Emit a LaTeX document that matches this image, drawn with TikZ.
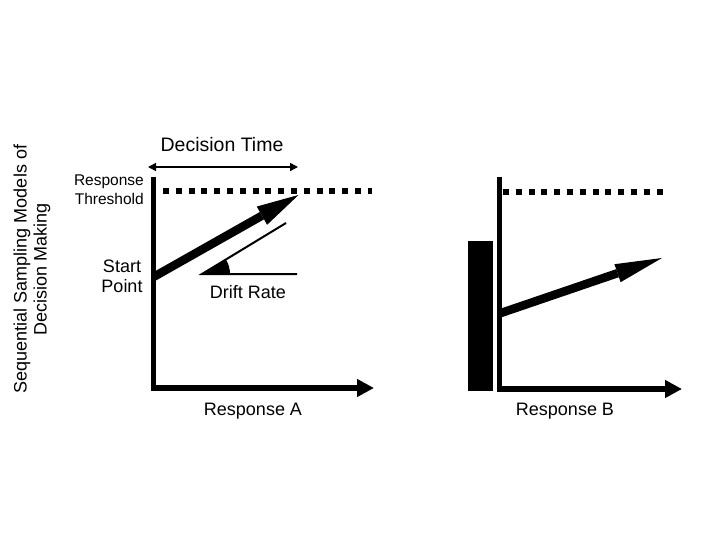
\documentclass[tikz,border=0pt]{standalone}
\usepackage{fontspec}
\setmainfont{Liberation Sans}
\usetikzlibrary{arrows.meta}

\begin{document}
\begin{tikzpicture}[x=1pt, y=1pt,
  axis/.style={line width=5.5pt, line join=miter, -{Triangle[length=17pt,width=17pt]}},
  thresh/.style={line width=5.5pt, dash pattern=on 6pt off 6.8pt},
  lbl/.style={font=\fontsize{18}{20}\selectfont, inner sep=0pt, align=center}]
  \useasboundingbox (0,0) rectangle (720,-540);

  % panel A
  \coordinate (topA) at (153.5,-177);
  \coordinate (originA) at (153.5,-388);
  \coordinate (endA) at (374,-388);
  \coordinate (startA) at (153.5,-277);
  \coordinate (hitA) at (298.5,-195);
  \draw[axis] (topA) -- (originA) -- (endA);
  \draw[thresh] (163,-191) -- (372,-191);
  \draw[line width=8.5pt, -{Triangle[length=42pt,width=21pt,line width=0pt]}] (startA) -- (hitA);
  \draw[line width=1.5pt, {Triangle[length=8pt,width=8pt]}-{Triangle[length=8pt,width=8pt]}] (148,-167) -- (298,-167);

  % drift rate angle
  \coordinate (driftV) at (202,-274);
  \coordinate (driftS) at (286,-223);
  \coordinate (driftH) at (297,-274);
  \fill (driftV) -- ++(28,0) arc[start angle=0, end angle=31, radius=28] -- cycle;
  \draw[line width=2pt] (driftS) -- (driftV) -- (driftH);

  % panel B
  \coordinate (topB) at (499.5,-177);
  \coordinate (originB) at (499.5,-389);
  \coordinate (endB) at (682,-389);
  \coordinate (startB) at (499.5,-313.5);
  \coordinate (hitB) at (662,-258);
  \fill (468,-241) rectangle (493,-391);
  \draw[axis] (topB) -- (originB) -- (endB);
  \draw[thresh] (503,-192) -- (664,-192);
  \draw[line width=8.5pt, -{Triangle[length=47pt,width=19pt,line width=0pt]}] (startB) -- (hitB);

  % labels
  \node (dectime) at (222,-145) [lbl, font=\fontsize{19.5}{22}\selectfont] {Decision Time};
  \node (threshold) at (144,-190) [anchor=east, inner sep=0pt, align=right, font=\fontsize{15.5}{19}\selectfont] {Response\\Threshold};
  \node (startpoint) at (122,-276) [lbl] {Start\\Point};
  \node (driftrate) at (248,-292) [lbl] {Drift Rate};
  \node (ylabel) at (32,-269) [lbl, rotate=90] {Sequential Sampling Models of\\Decision Making};
  \node (respA) at (253,-411) [lbl] {Response A};
  \node (respB) at (565,-411) [lbl] {Response B};
\end{tikzpicture}
\end{document}
